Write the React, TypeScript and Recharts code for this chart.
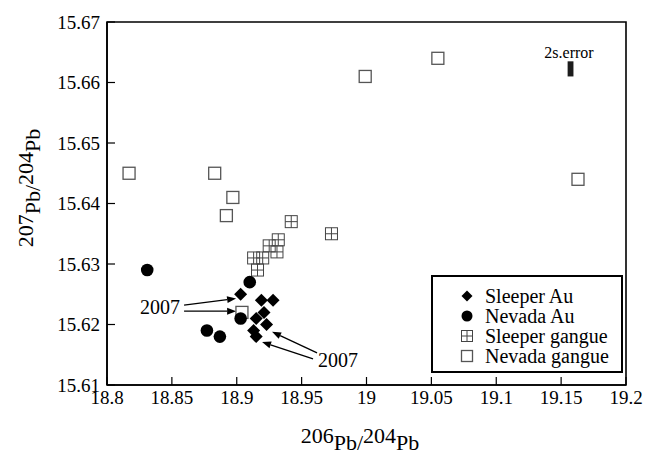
import React from 'react';
import { ScatterChart, Scatter, XAxis, YAxis, ReferenceArea, ReferenceLine } from 'recharts';

const FONT = 'Liberation Serif';

// [206Pb/204Pb, 207Pb/204Pb]
const sleeperAu = [
  [18.903, 15.625], [18.919, 15.624], [18.928, 15.624], [18.921, 15.622],
  [18.915, 15.621], [18.923, 15.62], [18.913, 15.619], [18.915, 15.618],
];
const nevadaAu = [
  [18.831, 15.629], [18.91, 15.627], [18.903, 15.621], [18.877, 15.619], [18.887, 15.618],
];
const sleeperGangue = [
  [18.942, 15.637], [18.973, 15.635], [18.932, 15.634], [18.925, 15.633],
  [18.931, 15.632], [18.913, 15.631], [18.92, 15.631], [18.916, 15.629],
];
const nevadaGangue = [
  [18.817, 15.645], [18.883, 15.645], [18.897, 15.641], [18.892, 15.638],
  [18.904, 15.622], [18.999, 15.661], [19.055, 15.664], [19.163, 15.644],
];

const xTickLabels = [18.8, 18.85, 18.9, 18.95, 19, 19.05, 19.1, 19.15, 19.2];
const yTickLabels = [15.61, 15.62, 15.63, 15.64, 15.65, 15.66, 15.67];

// 2s error bar, x range and y range
const errX = [19.155, 19.1595];
const errY = [15.661, 15.6635];

// "2007" arrows [from, to]
const noteArrows = [
  [[18.8594, 15.6232], [18.8995, 15.6243]],
  [[18.8594, 15.6222], [18.8995, 15.6222]],
  [[18.9619, 15.6153], [18.9272, 15.6188]],
  [[18.9588, 15.6143], [18.9195, 15.6171]],
];

const toPoints = (arr: number[][]) => arr.map(([x, y]) => ({ x, y }));

const Diamond = ({ cx, cy, r = 6.5 }: any) => (
  <polygon points={`${cx},${cy - r} ${cx + r},${cy} ${cx},${cy + r} ${cx - r},${cy}`} fill="#000" />
);
const Dot = ({ cx, cy, r = 6.3 }: any) => <circle cx={cx} cy={cy} r={r} fill="#000" />;
const GridSquare = ({ cx, cy, h = 6 }: any) => (
  <g stroke="#444" strokeWidth={1} fill="none">
    <rect x={cx - h} y={cy - h} width={2 * h} height={2 * h} />
    <line x1={cx} x2={cx} y1={cy - h} y2={cy + h} />
    <line x1={cx - h} x2={cx + h} y1={cy} y2={cy} />
  </g>
);
const OpenSquare = ({ cx, cy, h = 6 }: any) => (
  <rect x={cx - h} y={cy - h} width={2 * h} height={2 * h} stroke="#555" strokeWidth={1.3} fill="none" />
);

const series = [
  { name: 'Sleeper Au', data: toPoints(sleeperAu), Shape: Diamond },
  { name: 'Nevada Au', data: toPoints(nevadaAu), Shape: Dot },
  { name: 'Sleeper gangue', data: toPoints(sleeperGangue), Shape: GridSquare },
  { name: 'Nevada gangue', data: toPoints(nevadaGangue), Shape: OpenSquare },
].map((s) => ({ ...s, shape: (p: any) => <s.Shape cx={p.cx} cy={p.cy} /> }));
const drawOrder = [...series].reverse();

const Arrow = (p: any) => {
  const { x1, y1, x2, y2 } = p;
  const a = Math.atan2(y2 - y1, x2 - x1);
  const bx = x2 - 9 * Math.cos(a);
  const by = y2 - 9 * Math.sin(a);
  const px = -Math.sin(a) * 3.5;
  const py = Math.cos(a) * 3.5;
  return (
    <g>
      <line x1={x1} y1={y1} x2={bx} y2={by} stroke="#000" strokeWidth={1.3} />
      <polygon points={`${x2},${y2} ${bx + px},${by + py} ${bx - px},${by - py}`} fill="#000" />
    </g>
  );
};
const arrowSegments = noteArrows.map(([a, b]) => [{ x: a[0], y: a[1] }, { x: b[0], y: b[1] }]);

const tickStyle = { fontFamily: FONT, fontSize: 19, fill: '#000' };
const axisLineStyle = { stroke: '#000', strokeWidth: 1.6 };
const tickLineStyle = { stroke: '#000', strokeWidth: 1.2 };
const chartMargin = { top: 22, right: 20, bottom: 0, left: 0 };

const PbTitle = ({ x, y, top, rotate }: any) => (
  <text
    x={x}
    y={y}
    textAnchor="middle"
    fontFamily={FONT}
    fontSize={22}
    fill="#000"
    transform={rotate ? `rotate(-90, ${x}, ${y})` : undefined}
  >
    {top}
    <tspan dy={7}>Pb/</tspan>
    <tspan dy={-7}>204</tspan>
    <tspan dy={7}>Pb</tspan>
  </text>
);

export default function App() {
  return (
    <div style={{ position: 'absolute', left: 0, top: 0 }}>
      <ScatterChart width={646} height={456} margin={chartMargin}>
        <XAxis
          dataKey="x"
          type="number"
          domain={[18.8, 19.2]}
          ticks={xTickLabels}
          interval={0}
          height={71}
          tickSize={-8}
          tickMargin={14}
          tick={tickStyle}
          tickLine={tickLineStyle}
          axisLine={axisLineStyle}
        />
        <YAxis
          dataKey="y"
          type="number"
          domain={[15.61, 15.67]}
          ticks={yTickLabels}
          interval={0}
          width={107}
          tickSize={-8}
          tickMargin={15}
          tick={tickStyle}
          tickLine={tickLineStyle}
          axisLine={axisLineStyle}
          tickFormatter={(v: number) => v.toFixed(2)}
        />
        <ReferenceArea x1={18.8} x2={19.2} y1={15.61} y2={15.67} fill="none" stroke="#000" strokeWidth={1.6} />

        {drawOrder.map((s) => (
          <Scatter key={s.name} name={s.name} data={s.data} shape={s.shape} isAnimationActive={false} />
        ))}

        <ReferenceArea x1={errX[0]} x2={errX[1]} y1={errY[0]} y2={errY[1]} fill="#1c1c1c" fillOpacity={1} stroke="none" />
        {arrowSegments.map((seg, i) => (
          <ReferenceLine key={'a' + i} segment={seg} shape={Arrow} />
        ))}

        <text x={569} y={58} textAnchor="middle" fontFamily={FONT} fontSize={16} fill="#000">2s.error</text>
        <text x={180} y={314} textAnchor="end" fontFamily={FONT} fontSize={20} fill="#000">2007</text>
        <text x={318} y={367} fontFamily={FONT} fontSize={20} fill="#000">2007</text>
        <PbTitle x={360} y={443} top="206" />
        <PbTitle x={33} y={188} top="207" rotate />

        <g>
          <rect x={432} y={276} width={190} height={96} fill="#fff" stroke="#000" strokeWidth={2} />
          {series.map((s, i) => (
            <g key={s.name}>
              <s.Shape cx={467} cy={296 + i * 20} r={5.5} h={5.5} />
              <text x={485} y={302.5 + i * 20} fontFamily={FONT} fontSize={20} fill="#000">
                {s.name}
              </text>
            </g>
          ))}
        </g>
      </ScatterChart>
    </div>
  );
}
